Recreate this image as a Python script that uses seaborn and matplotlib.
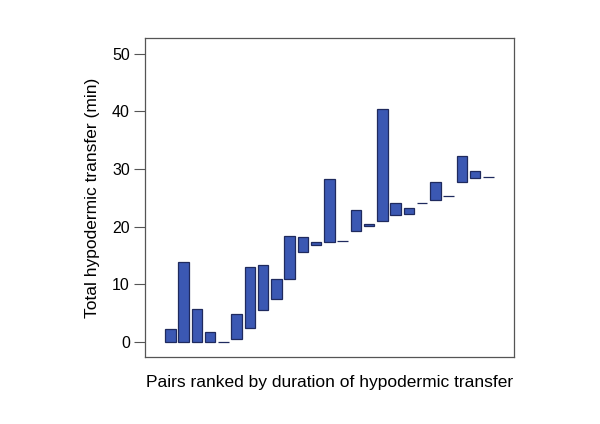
import matplotlib
matplotlib.use("Agg")
import matplotlib.pyplot as plt
import seaborn as sns
import pandas as pd

# lower / upper transfer time (min) for each pair, ranked
pair_rank = list(range(1, 26))
lower = [0, 0, 0, 0, 0, 0.6, 2.5, 5.5, 7.4, 11.0, 15.7, 16.8, 17.4, 17.5,
         19.2, 20.1, 21.0, 22.1, 22.3, 24.2, 24.6, 25.4, 27.7, 28.5, 28.7]
upper = [2.2, 13.9, 5.7, 1.7, 0, 4.9, 13.0, 13.4, 11.0, 18.4, 18.2, 17.3,
         28.3, 17.5, 22.9, 20.5, 40.5, 24.2, 23.2, 24.2, 27.8, 25.4, 32.2,
         29.7, 28.7]

df = pd.DataFrame({"pair": pair_rank, "lower": lower, "upper": upper})
df["span"] = df["upper"] - df["lower"]

sns.set_style("white")
plt.rcParams["font.family"] = ["Liberation Sans", "DejaVu Sans"]
plt.rcParams["text.color"] = "black"
plt.rcParams["axes.labelcolor"] = "black"
plt.rcParams["ytick.color"] = "black"

fig = plt.figure(figsize=(6, 4.24), dpi=100)
ax = fig.add_axes([0.242, 0.157, 0.614, 0.753])

sns.barplot(
    data=df,
    x="pair",
    y="span",
    bottom=df["lower"].values,
    color="#3b58b3",
    saturation=1,
    edgecolor="#1f2a5e",
    linewidth=0.9,
    width=0.78,
    ax=ax,
)

ax.set_xlim(-1.9, 25.9)
ax.set_ylim(-2.65, 52.7)
ax.set_yticks([0, 10, 20, 30, 40, 50])
ax.set_xticks([])
ax.tick_params(axis="y", which="both", left=True, length=8, width=0.8,
               color="#555555", labelcolor="black", labelsize=11.5, pad=3)
for s in ax.spines.values():
    s.set_color("#555555")
    s.set_linewidth(0.9)

ax.set_xlabel("Pairs ranked by duration of hypodermic transfer",
              fontsize=12.5, labelpad=13)
ax.set_ylabel("Total hypodermic transfer (min)", fontsize=12.5, labelpad=9)

fig.savefig("out.png", dpi=100)
